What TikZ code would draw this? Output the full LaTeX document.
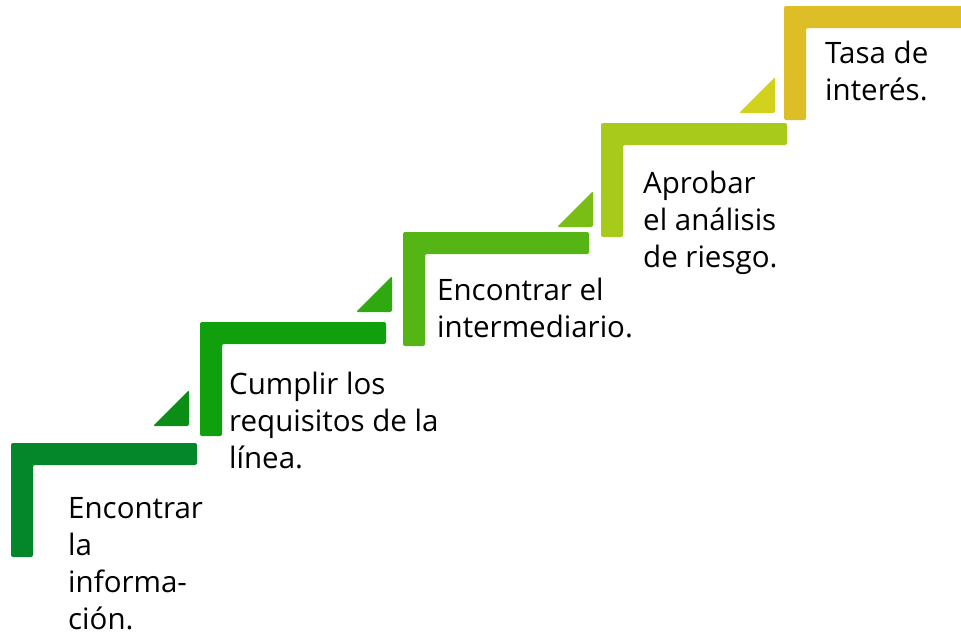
\documentclass[tikz,border=0pt]{standalone}
\usepackage{fontspec}
\setmainfont{Open Sans}
\usepackage{xcolor}
\usetikzlibrary{positioning}

\definecolor{stepA}{RGB}{4,135,42}
\definecolor{stepB}{RGB}{16,160,14}
\definecolor{stepC}{RGB}{85,181,20}
\definecolor{stepD}{RGB}{168,202,26}
\definecolor{stepE}{RGB}{221,190,38}
\definecolor{triB}{RGB}{10,142,22}
\definecolor{triC}{RGB}{48,168,16}
\definecolor{triD}{RGB}{120,190,20}
\definecolor{triE}{RGB}{210,210,30}

\tikzset{
	stair/.style={rounded corners=2pt},
	steptext/.style={anchor=base west, align=left, inner sep=0pt, font=\fontsize{29.5}{37}\selectfont}
}

\begin{document}
\begin{tikzpicture}[x=1pt, y=-1pt]
		\def\W{186}
		\def\H{114}
		\def\T{22}
		\useasboundingbox (0,0) rectangle (961,637);
		\begin{scope}
			\clip (0,0) rectangle (961,637);
			% the stairs
			\foreach \x/\y/\c in {11/443/stepA, 200/322/stepB, 403/232/stepC, 601/123/stepD, 784/6/stepE} {
				\fill[\c, stair, shift={(\x,\y)}] (0,0) -- (\W,0) -- (\W,\T) -- (\T,\T) -- (\T,\H) -- (0,\H) -- cycle;
			}
			% small triangles between the stairs
			\foreach \x/\y/\c in {189/426/triB, 392/312/triC, 593/227/triD, 775/113/triE} {
				\fill[\c, stair, shift={(\x,\y)}] (-36,0) -- (0,0) -- (0,-36) -- cycle;
			}
		\end{scope}
		% texts, placed at the baseline of their last line
		\node[steptext] (info) at (68,629) {Encontrar\\la\\informa-\\ción.};
		\node[steptext] (requisitos) at (229,468) {Cumplir los\\requisitos de la\\línea.};
		\node[steptext] (intermediario) at (437,337) {Encontrar el\\intermediario.};
		\node[steptext] (riesgo) at (643,267) {Aprobar\\el análisis\\de riesgo.};
		\node[steptext] (tasa) at (825,100) {Tasa de\\interés.};
	\end{tikzpicture}
\end{document}
